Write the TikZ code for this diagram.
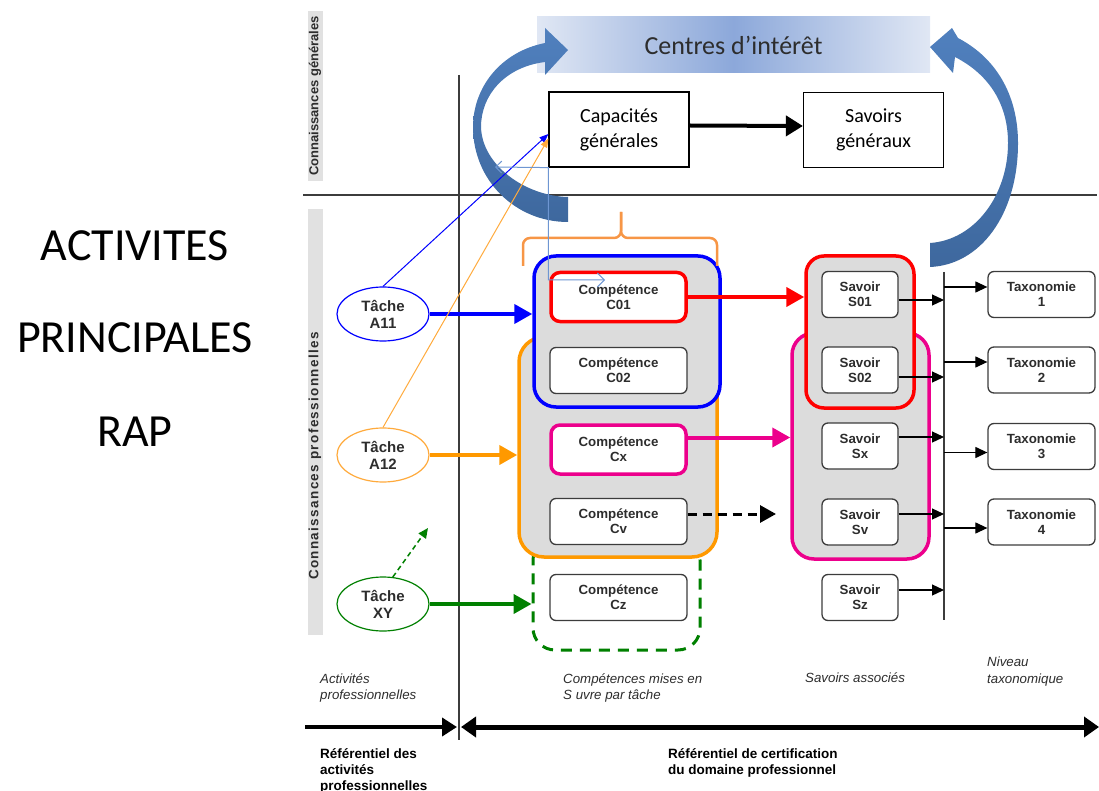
\documentclass[tikz,border=0pt]{standalone}
\usepackage{fontspec}
\setmainfont{Liberation Sans}
\newfontfamily\calibri{Carlito}
\usetikzlibrary{arrows.meta,shapes.geometric}

\definecolor{arrowtop}{RGB}{80,128,190}
\definecolor{arrowbot}{RGB}{62,104,158}
\definecolor{bannerlight}{RGB}{224,231,244}
\definecolor{bannermid}{RGB}{140,168,218}
\definecolor{grpgray}{RGB}{220,220,220}
\definecolor{bargray}{RGB}{225,225,225}
\definecolor{textgray}{RGB}{45,45,45}
\definecolor{linegray}{RGB}{60,60,60}
\definecolor{grporange}{RGB}{255,153,0}
\definecolor{lightorange}{RGB}{255,170,60}
\definecolor{braceorange}{RGB}{247,150,70}
\definecolor{darkgreen}{RGB}{0,128,0}
\definecolor{pathblue}{RGB}{110,150,210}

\begin{document}
\begin{tikzpicture}[x=1pt, y=-1pt,
    bigtext/.style={font=\calibri\fontsize{46}{50}\selectfont},
    sidebar/.style={fill=bargray, minimum width=15pt, inner sep=0pt},
    sidelabel/.style={rotate=90, font=\bfseries\fontsize{13}{15}\selectfont, text=textgray},
    banner/.style={minimum width=393pt, minimum height=56pt, left color=bannerlight, right color=bannerlight, middle color=bannermid, font=\calibri\fontsize{26}{30}\selectfont, text=textgray},
    capbox/.style={draw, fill=white, line width=1.2pt, minimum width=140pt, minimum height=75pt, align=center, font=\calibri\fontsize{20}{25}\selectfont},
    grp/.style={fill=grpgray, rounded corners=22pt, line width=3.5pt, inner sep=0pt},
    compbox/.style={draw=linegray, fill=white, rounded corners=6pt, line width=1.3pt, minimum width=137pt, minimum height=46pt, align=center, inner sep=0pt, font=\bfseries\fontsize{13.3}{15}\selectfont, text=textgray},
    savbox/.style={compbox, minimum width=76pt},
    taxbox/.style={compbox, minimum width=107pt},
    tache/.style={ellipse, line width=1.2pt, fill=white, minimum width=92pt, minimum height=54pt, inner sep=0pt, align=center, font=\bfseries\fontsize{15}{17}\selectfont, text=textgray},
    thickarrow/.style={-{Triangle[length=18pt,width=19pt]}, line width=4pt},
    thinarrow/.style={-{Triangle[length=12pt,width=11pt]}, line width=1.2pt},
    note/.style={font=\itshape\fontsize{13.3}{16.5}\selectfont, text=textgray, align=left, anchor=north west, inner sep=0pt},
    ref/.style={font=\bfseries\fontsize{13.5}{16}\selectfont, align=left, anchor=north west, inner sep=0pt}]
\useasboundingbox (0,0) rectangle (1099,791);

% left title
\node[bigtext] (act) at (135,246) {ACTIVITES};
\node[bigtext] (princ) at (135,338) {PRINCIPALES};
\node[bigtext] (rap) at (135,432) {RAP};

% grey side bars
\node[sidebar, minimum height=170pt] (bargen) at (315,96) {};
\node[sidelabel] (lblgen) at (bargen) {Connaissances générales};
\node[sidebar, minimum height=425pt] (barpro) at (315,422) {};
\node[sidelabel, font=\bfseries\fontsize{13.5}{15}\selectfont\addfontfeature{LetterSpace=10}] (lblpro) at (315,456) {Connaissances professionnelles};

% frame lines
\draw[linegray, line width=1.2pt] (303,195) -- (1097,195);
\draw[linegray, line width=1.2pt] (459,75) -- (459,740);

% centres d'interet
\node[banner] (centres) at (733.5,45) {Centres d’intérêt};
\node[capbox] (capa) at (619,129.5) {Capacités\\générales};
\node[capbox] (savg) at (873.5,130) {Savoirs\\généraux};
\draw[thickarrow, -{Triangle[length=17pt,width=20pt]}] ([yshift=4pt]capa.east) -- ([yshift=4pt]savg.west);

% groups of competences and savoirs
\node[grp, fill=white, draw=darkgreen, dash pattern=on 11pt off 8pt, line width=3pt, minimum width=167pt, minimum height=112pt] (grpxy) at (616.5,594) {};
\node[grp, draw=grporange, rounded corners=25pt, minimum width=198pt, minimum height=220pt] (grpa12) at (618,447) {};
\node[grp, draw=blue, minimum width=186pt, minimum height=151pt] (grpa11) at (627,331.5) {};
\node[grp, draw=magenta, minimum width=137pt, minimum height=226pt] (grpsx) at (860.5,446) {};
\node[grp, draw=red, rounded corners=18pt, minimum width=108pt, minimum height=152pt] (grps01) at (860,332) {};

% competences
\node[compbox, draw=red, line width=3.5pt, rounded corners=9pt, minimum width=135pt, minimum height=49pt] (c01) at (618.5,297) {Compétence\\C01};
\node[compbox] (c02) at (618.5,370.5) {Compétence\\C02};
\node[compbox, draw=magenta, line width=3.5pt, rounded corners=9pt, minimum width=135pt, minimum height=49pt] (cx) at (618.5,449.5) {Compétence\\Cx};
\node[compbox] (cv) at (618.5,521.5) {Compétence\\Cv};
\node[compbox] (cz) at (618.5,597.5) {Compétence\\Cz};

% savoirs
\node[savbox] (s01) at (860,294.5) {Savoir\\S01};
\node[savbox] (s02) at (860,370) {Savoir\\S02};
\node[savbox] (sx) at (860,446) {Savoir\\Sx};
\node[savbox] (sv) at (860,522) {Savoir\\Sv};
\node[savbox] (sz) at (860,597.5) {Savoir\\Sz};

% taxonomie
\node[taxbox] (tax1) at (1041.5,294.5) {Taxonomie\\1};
\node[taxbox] (tax2) at (1041.5,370) {Taxonomie\\2};
\node[taxbox] (tax3) at (1041.5,446.5) {Taxonomie\\3};
\node[taxbox] (tax4) at (1041.5,522) {Taxonomie\\4};

% taches
\node[tache, draw=blue] (a11) at (383,314) {Tâche\\A11};
\node[tache, draw=lightorange] (a12) at (383,455) {Tâche\\A12};
\node[tache, draw=darkgreen] (xy) at (383,604) {Tâche\\XY};

% tache -> competences
\draw[thickarrow, blue] (a11.east) -- (a11.east -| grpa11.west);
\draw[thickarrow, grporange] (a12.east) -- (a12.east -| grpa12.west);
\draw[thickarrow, darkgreen] (xy.east) -- (xy.east -| grpxy.west);
\coordinate (xyend) at (428,528);
\draw[darkgreen, line width=1.5pt, dash pattern=on 5pt off 3.5pt, -{Triangle[length=10pt,width=9pt]}] (xy.70) -- (xyend);

% competences -> savoirs
\draw[thickarrow, red] (c01.east) -- (c01.east -| grps01.west);
\coordinate (cxout) at ([yshift=12pt]cx.east);
\draw[thickarrow, magenta] (cxout) -- (cxout -| grpsx.west);
\coordinate (cvout) at ([yshift=7.5pt]cv.east);
\coordinate (cvend) at (776,514);
\draw[line width=3pt, dash pattern=on 9pt off 6pt, -{Triangle[length=16pt,width=17pt]}] (cvout) -- (cvend);

% savoirs -> taxonomie
\coordinate (bus) at (944,272);
\coordinate (busend) at (944,620);
\draw[linegray, line width=1.3pt] (bus) -- (busend);
\foreach \s/\d in {s01/-5.5, s02/-7, sx/9, sv/8, sz/7.5}{
  \coordinate (p) at ([yshift=\d pt]\s.east);
  \draw[thinarrow] (p) -- (p -| bus);
}
\foreach \t/\d in {tax1/7.5, tax2/8, tax3/-6, tax4/-6}{
  \coordinate (q) at ([yshift=\d pt]\t.west);
  \draw[thinarrow] (q -| bus) -- (q);
}

% brace over the competences
\draw[braceorange, line width=2.5pt, rounded corners=7pt] (523,266) -- (523,238) -- (621,238) -- (621,212);
\draw[braceorange, line width=2.5pt, rounded corners=7pt] (717,266) -- (717,238) -- (621,238) -- (621,212);

% curved arrows to the centres d'interet
\shade[top color=arrowtop, bottom color=arrowbot] (545,62) -- (545,75) -- (568,50) -- (545,28) -- (545,43)
  .. controls (500,52) and (473,88) .. (473,127) .. controls (473,180) and (515,222) .. (568,222)
  -- (568,197) .. controls (525,196) and (482,165) .. (481,127) .. controls (481,95) and (505,67) .. (545,62) -- cycle;
\shade[top color=arrowtop, bottom color=arrowbot] (955,57) -- (953,73) -- (930,47) -- (952,28) -- (958,38)
  .. controls (1000,60) and (1018,100) .. (1018,143) .. controls (1018,215) and (980,265) .. (930,267)
  -- (930,243) .. controls (975,240) and (1008,195) .. (1008,143) .. controls (1008,105) and (990,75) .. (955,57) -- cycle;

% thin links to capacites generales
\draw[blue, line width=1pt, -{Triangle[length=9pt,width=7pt]}] (a11.north) -- ([yshift=-4.5pt]capa.west);
\draw[lightorange, line width=1pt, -{Triangle[length=9pt,width=7pt]}] (a12.north) -- ([yshift=-9pt]capa.west);
\coordinate (lbstart) at (495,167);
\coordinate (lbend) at (605,280);
\draw[pathblue, line width=1pt, {Straight Barb[length=6pt]}-{Straight Barb[length=7pt]}] (lbstart) -- (capa.south west) -- (capa.south west |- lbend) -- (lbend);

% column notes
\node[note] (nact) at (320,673) {Activités\\professionnelles};
\node[note] (ncomp) at (563,673) {Compétences mises en\\S uvre par tâche};
\node[note] (nsav) at (805,673) {Savoirs associés};
\node[note] (nniv) at (987,657) {Niveau\\taxonomique};

% referentiels
\coordinate (refl) at (305,727);
\coordinate (refm) at (459,727);
\coordinate (refr) at (1099,727);
\draw[line width=4pt, -{Triangle[length=15pt,width=18pt]}] (refl) -- ([xshift=-2pt]refm);
\draw[line width=5pt, {Triangle[length=15pt,width=20pt]}-{Triangle[length=15pt,width=20pt]}] ([xshift=2pt]refm) -- (refr);
\node[ref] (refact) at (320,748) {Référentiel des\\activités\\professionnelles};
\node[ref] (refcert) at (668,748) {Référentiel de certification\\du domaine professionnel};
\end{tikzpicture}
\end{document}
